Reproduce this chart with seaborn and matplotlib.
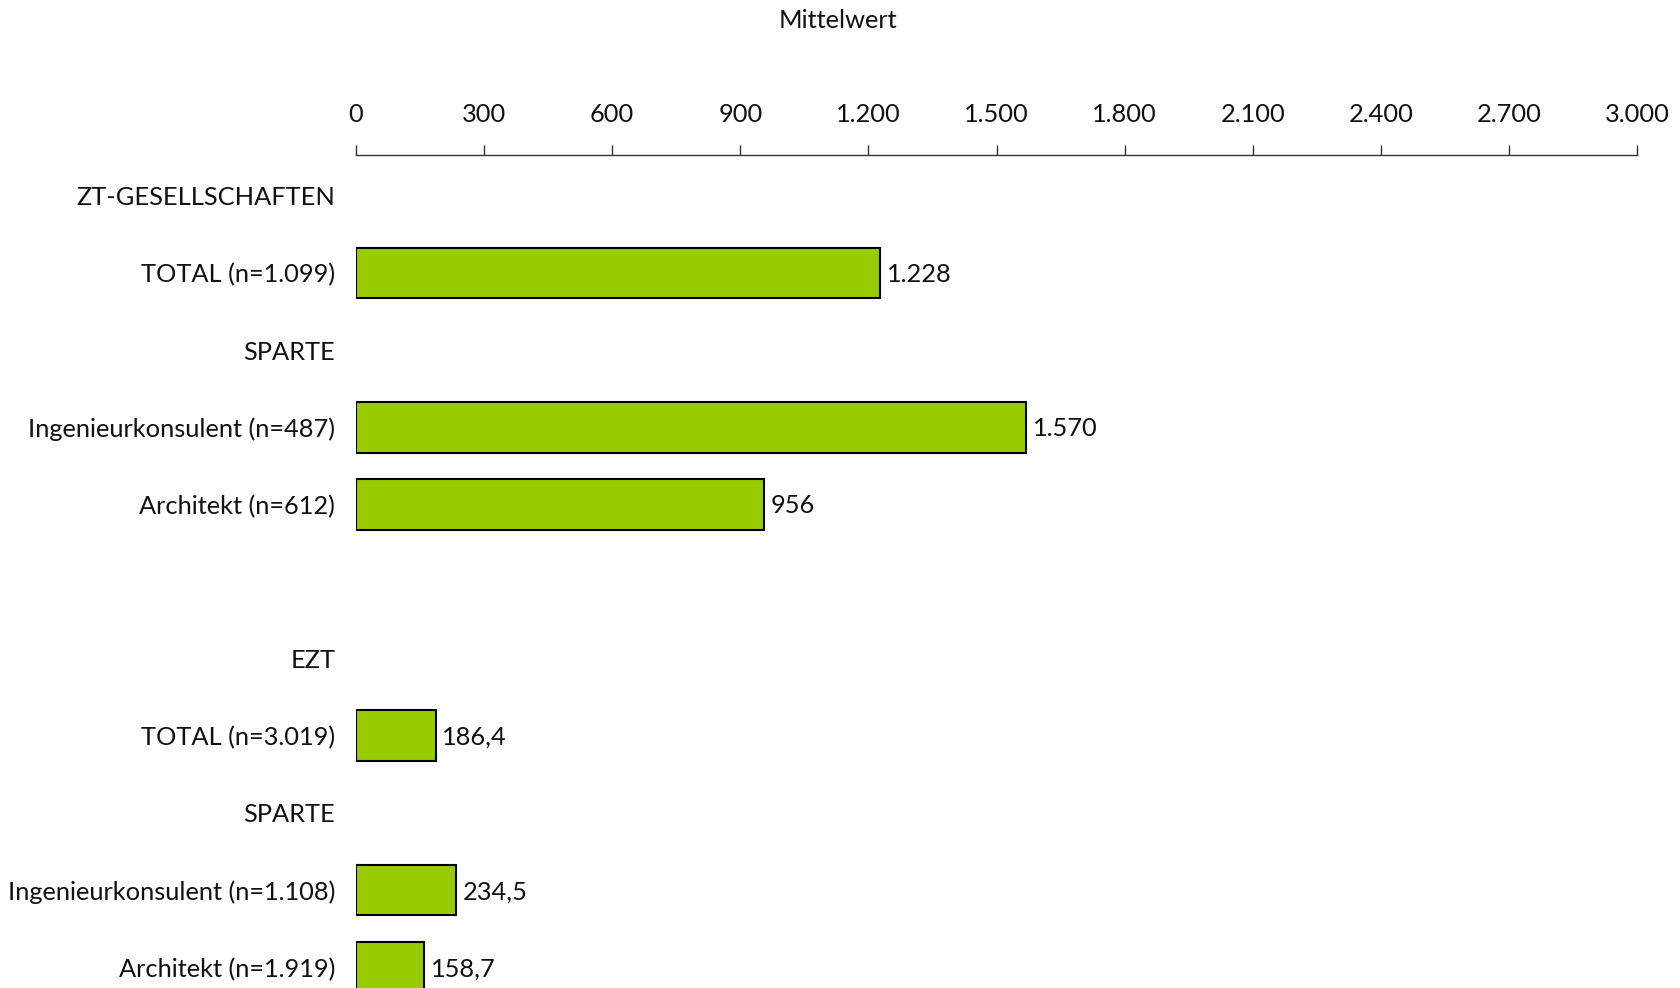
import matplotlib
matplotlib.use("Agg")
import matplotlib.pyplot as plt
import seaborn as sns
import pandas as pd

# Row layout (headers, bars and one spacer row)
row_labels = [
    "ZT-GESELLSCHAFTEN",
    "TOTAL (n=1.099)",
    "SPARTE",
    "Ingenieurkonsulent (n=487)",
    "Architekt (n=612)",
    "",
    "EZT",
    "TOTAL (n=3.019)",
    "SPARTE",
    "Ingenieurkonsulent (n=1.108)",
    "Architekt (n=1.919)",
]
row_keys = [f"row{i}" for i in range(len(row_labels))]

# Bars: which row they sit in, their mean value and the printed label
bar_rows = [1, 3, 4, 7, 9, 10]
bar_values = [1228, 1570, 956, 186.4, 234.5, 158.7]
bar_value_labels = ["1.228", "1.570", "956", "186,4", "234,5", "158,7"]

tick_values = [0, 300, 600, 900, 1200, 1500, 1800, 2100, 2400, 2700, 3000]
tick_labels = ["0", "300", "600", "900", "1.200", "1.500", "1.800",
               "2.100", "2.400", "2.700", "3.000"]

df = pd.DataFrame({
    "row": [row_keys[r] for r in bar_rows],
    "value": bar_values,
})

sns.set_theme(style="white")
plt.rcParams["font.family"] = ["Lato", "DejaVu Sans"]

fig = plt.figure(figsize=(16.8, 9.88), dpi=100)
ax = fig.add_axes([356 / 1680, 0.0, (1637 - 356) / 1680, 1 - 155 / 988])

sns.barplot(data=df, x="value", y="row", order=row_keys, orient="h",
            color="#99CC00", saturation=1, width=0.66,
            edgecolor="black", linewidth=1.5, ax=ax)

ax.set_xlim(0, 3000)
ax.set_ylim(10.27, -0.53)

for r, v, lab in zip(bar_rows, bar_values, bar_value_labels):
    ax.text(v + 16, r + 0.02, lab, va="center", ha="left", fontsize=18.3,
            color="#111111", family=["Lato", "DejaVu Sans"])

# Top value axis
ax.xaxis.set_ticks_position("top")
ax.xaxis.set_label_position("top")
ax.set_xticks(tick_values)
ax.set_xticklabels(tick_labels, fontsize=18.3, family=["Lato", "DejaVu Sans"],
                   color="#111111")
ax.tick_params(axis="x", direction="out", length=7, width=1.0, color="#333333",
               pad=14, top=True, bottom=False)
ax.set_xlabel("")

ax.set_yticks(range(len(row_labels)))
ax.set_yticklabels(row_labels, fontsize=18.3, color="#111111")
ax.tick_params(axis="y", length=0, pad=15)
ax.set_ylabel("")

for side in ["left", "right", "bottom"]:
    ax.spines[side].set_visible(False)
ax.spines["top"].set_color("#333333")
ax.spines["top"].set_linewidth(1.0)

fig.text(838 / 1680, 1 - 21 / 988, "Mittelwert", ha="center", va="center",
         fontsize=18.3, color="#111111")

fig.savefig("out.png", dpi=100)
